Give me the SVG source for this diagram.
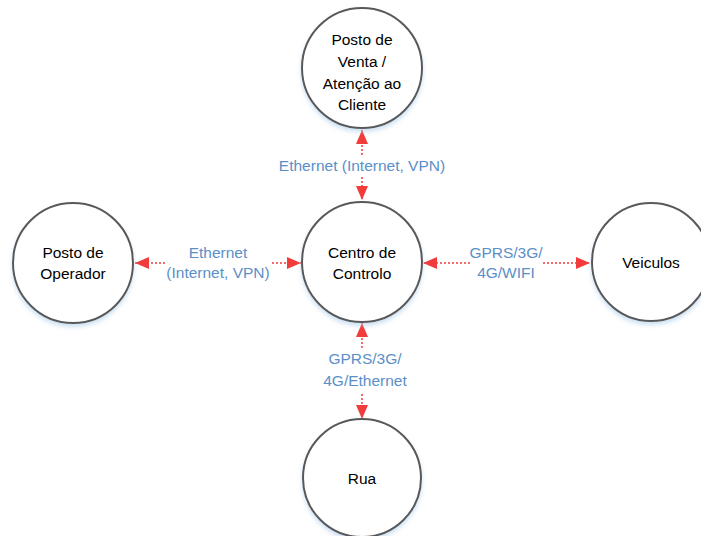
<svg xmlns="http://www.w3.org/2000/svg" width="701" height="536" viewBox="0 0 701 536">
<style>
.node{fill:#fff;stroke:#595959;stroke-width:2;filter:url(#sh)}
.t{font-family:"Liberation Sans",Arial,sans-serif;font-size:15.5px;fill:#000;text-anchor:middle}
.l{font-family:"Liberation Sans",Arial,sans-serif;font-size:15.5px;fill:#5b8fc7;text-anchor:middle}
.c{stroke:#f23b3b;stroke-width:1.5;stroke-dasharray:2 2;fill:none}
</style>
<defs>
<filter id="sh" x="-20%" y="-20%" width="140%" height="140%">
<feDropShadow dx="0" dy="3" stdDeviation="2" flood-color="#9dc3e6" flood-opacity="0.5"/>
</filter>
<marker id="ah" viewBox="0 0 14 12" refX="14" refY="6" markerWidth="14" markerHeight="12" markerUnits="userSpaceOnUse" orient="auto">
<path d="M0,0 L14,6 L0,12 Z" fill="#f23b3b"/>
</marker>
</defs>
<rect width="701" height="536" fill="#fff"/>
<g id="connectors">
<line class="c" x1="362" y1="155" x2="362" y2="130" marker-end="url(#ah)"/>
<line class="c" x1="362" y1="177" x2="362" y2="200" marker-end="url(#ah)"/>
<line class="c" x1="165" y1="263" x2="135" y2="263" marker-end="url(#ah)"/>
<line class="c" x1="272" y1="263" x2="301" y2="263" marker-end="url(#ah)"/>
<line class="c" x1="470" y1="263" x2="423" y2="263" marker-end="url(#ah)"/>
<line class="c" x1="543" y1="263" x2="590" y2="263" marker-end="url(#ah)"/>
<line class="c" x1="362" y1="348" x2="362" y2="323" marker-end="url(#ah)"/>
<line class="c" x1="362" y1="394" x2="362" y2="419" marker-end="url(#ah)"/>
<text class="l" x="362" y="171">Ethernet (Internet, VPN)</text>
<text class="l" x="218" y="258">Ethernet</text>
<text class="l" x="218" y="278">(Internet, VPN)</text>
<text class="l" x="506" y="258">GPRS/3G/</text>
<text class="l" x="506" y="278">4G/WIFI</text>
<text class="l" x="365" y="364">GPRS/3G/</text>
<text class="l" x="365" y="386">4G/Ethernet</text>
</g>
<g id="posto-venta">
<circle class="node" cx="362" cy="68" r="60"/>
<text class="t" x="362" y="45">Posto de</text>
<text class="t" x="362" y="67">Venta /</text>
<text class="t" x="362" y="89">Atenção ao</text>
<text class="t" x="362" y="110">Cliente</text>
</g>
<g id="centro">
<circle class="node" cx="362" cy="262" r="60"/>
<text class="t" x="362" y="258">Centro de</text>
<text class="t" x="362" y="279">Controlo</text>
</g>
<g id="posto-operador">
<circle class="node" cx="73" cy="263" r="60"/>
<text class="t" x="73" y="258">Posto de</text>
<text class="t" x="73" y="279">Operador</text>
</g>
<g id="veiculos">
<circle class="node" cx="651" cy="262" r="59"/>
<text class="t" x="651" y="268">Veiculos</text>
</g>
<g id="rua">
<circle class="node" cx="362" cy="478" r="59"/>
<text class="t" x="362" y="484">Rua</text>
</g>
</svg>
